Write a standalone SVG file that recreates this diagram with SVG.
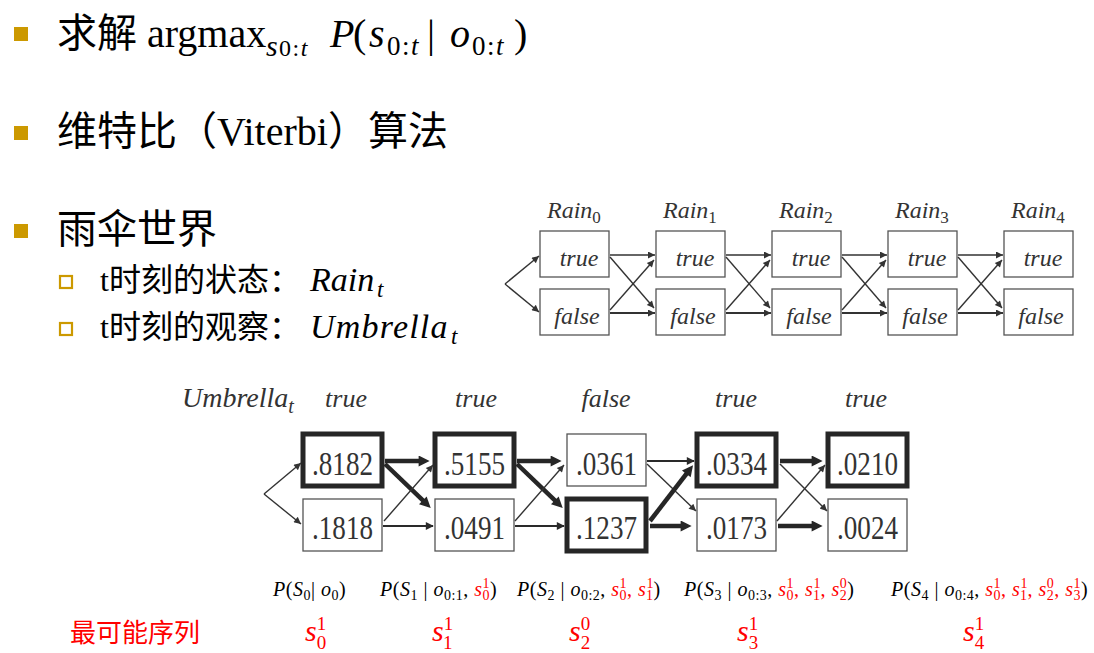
<svg xmlns="http://www.w3.org/2000/svg" width="1094" height="653" viewBox="0 0 1094 653">
<style>
.cjk{font-family:"Noto Sans CJK SC",sans-serif;}
.ser{font-family:"Liberation Serif","Noto Sans CJK SC",serif;}
.it{font-style:italic;}
.red{fill:#FF0000;}
.blk{fill:#000;}
.dg{fill:#333;}
.box{fill:#fff;stroke:#555;stroke-width:1.3;}
.boxb{fill:#fff;stroke:#262626;stroke-width:5;}
.ln{stroke:#333;stroke-width:1.4;fill:none;marker-end:url(#ah);}
.lnt{stroke:#333;stroke-width:2.2;fill:none;marker-end:url(#ah);}
.lnm{stroke:#2a2a2a;stroke-width:2.2;fill:none;marker-end:url(#ahm);}
.lnb{stroke:#262626;stroke-width:4.5;fill:none;marker-end:url(#ahb);}
.bul{fill:#CC9900;}
.hbul{fill:#fff;stroke:#CC9900;stroke-width:2.2;}
.fm{letter-spacing:0.5px;}
</style>
<defs>
<marker id="ah" viewBox="0 0 10 10" refX="10" refY="5" markerWidth="11" markerHeight="7" markerUnits="userSpaceOnUse" orient="auto"><path d="M0,0 L10,5 L0,10 z" fill="#333"/></marker>
<marker id="ahm" viewBox="0 0 10 10" refX="9" refY="5" markerWidth="12" markerHeight="8" markerUnits="userSpaceOnUse" orient="auto"><path d="M0,0 L10,5 L0,10 z" fill="#2a2a2a"/></marker>
<marker id="ahb" viewBox="0 0 10 10" refX="4" refY="5" markerWidth="16" markerHeight="11" markerUnits="userSpaceOnUse" orient="auto"><path d="M0,0 L10,5 L0,10 z" fill="#262626"/></marker>
</defs>
<rect width="1094" height="653" fill="#fff"/>

<g id="bullets">
<rect class="bul" x="14" y="27" width="14" height="14"/>
<rect class="bul" x="14" y="126" width="14" height="14"/>
<rect class="bul" x="14" y="224" width="14" height="14"/>
<rect class="hbul" x="60" y="276" width="12" height="12"/>
<rect class="hbul" x="60" y="323" width="12" height="12"/>
</g>

<g id="header" class="blk">
<text x="57" y="47" font-size="40" class="ser"><tspan class="cjk">求解</tspan> argmax<tspan class="it" font-size="30" x="266" dy="9">s</tspan><tspan font-size="24" x="279" letter-spacing="1.5">0:<tspan class="it">t</tspan></tspan><tspan dy="-9" x="330" class="it">P</tspan><tspan x="353">(</tspan><tspan class="it" x="369">s</tspan><tspan font-size="27" x="387" dy="8" letter-spacing="1.5">0:<tspan class="it">t</tspan></tspan><tspan dy="-8" x="427">|</tspan><tspan class="it" x="450">o</tspan><tspan font-size="27" x="472" dy="8" letter-spacing="1.5">0:<tspan class="it">t</tspan></tspan><tspan dy="-8" x="514">)</tspan></text>
<text x="57" y="145" font-size="40" class="ser"><tspan class="cjk">维特比（</tspan>Viterbi<tspan class="cjk">）算法</tspan></text>
<text x="57" y="243" font-size="40" class="cjk">雨伞世界</text>
<text x="100" y="291" font-size="32" class="ser">t<tspan class="cjk">时刻的状态：</tspan><tspan class="it" font-size="34" x="310">Rain</tspan><tspan class="it" font-size="23" dy="6" x="377">t</tspan></text>
<text x="100" y="338" font-size="32" class="ser">t<tspan class="cjk">时刻的观察：</tspan><tspan class="it" font-size="34" x="310" letter-spacing="1.2">Umbrella</tspan><tspan class="it" font-size="23" dy="6" x="451">t</tspan></text>
</g>

<g id="top-labels" class="ser it dg" font-size="24">
<text x="547" y="218">Rain<tspan font-style="normal" font-size="17" dy="5">0</tspan></text>
<text x="663" y="218">Rain<tspan font-style="normal" font-size="17" dy="5">1</tspan></text>
<text x="779" y="218">Rain<tspan font-style="normal" font-size="17" dy="5">2</tspan></text>
<text x="895" y="218">Rain<tspan font-style="normal" font-size="17" dy="5">3</tspan></text>
<text x="1011" y="218">Rain<tspan font-style="normal" font-size="17" dy="5">4</tspan></text>
</g>

<g id="r0t"><rect class="box" x="540" y="231" width="69" height="46"/><text class="ser it dg" font-size="24" x="579" y="266" text-anchor="middle">true</text></g>
<g id="r0f"><rect class="box" x="540" y="289" width="69" height="46"/><text class="ser it dg" font-size="24" x="577" y="324" text-anchor="middle">false</text></g>
<g id="r1t"><rect class="box" x="656" y="231" width="69" height="46"/><text class="ser it dg" font-size="24" x="695" y="266" text-anchor="middle">true</text></g>
<g id="r1f"><rect class="box" x="656" y="289" width="69" height="46"/><text class="ser it dg" font-size="24" x="693" y="324" text-anchor="middle">false</text></g>
<g id="r2t"><rect class="box" x="772" y="231" width="69" height="46"/><text class="ser it dg" font-size="24" x="811" y="266" text-anchor="middle">true</text></g>
<g id="r2f"><rect class="box" x="772" y="289" width="69" height="46"/><text class="ser it dg" font-size="24" x="809" y="324" text-anchor="middle">false</text></g>
<g id="r3t"><rect class="box" x="888" y="231" width="69" height="46"/><text class="ser it dg" font-size="24" x="927" y="266" text-anchor="middle">true</text></g>
<g id="r3f"><rect class="box" x="888" y="289" width="69" height="46"/><text class="ser it dg" font-size="24" x="925" y="324" text-anchor="middle">false</text></g>
<g id="r4t"><rect class="box" x="1004" y="231" width="69" height="46"/><text class="ser it dg" font-size="24" x="1043" y="266" text-anchor="middle">true</text></g>
<g id="r4f"><rect class="box" x="1004" y="289" width="69" height="46"/><text class="ser it dg" font-size="24" x="1041" y="324" text-anchor="middle">false</text></g>

<g id="top-connectors">
<path class="ln" d="M505,284 L539,256"/>
<path class="ln" d="M505,284 L539,312"/>
<path class="ln" d="M610,255 L655,255"/><path class="ln" d="M610,257 L654,308"/><path class="ln" d="M610,310 L654,260"/><path class="lnt" d="M610,313 L655,313"/>
<path class="ln" d="M726,255 L771,255"/><path class="ln" d="M726,257 L770,308"/><path class="ln" d="M726,310 L770,260"/><path class="lnt" d="M726,313 L771,313"/>
<path class="ln" d="M842,255 L887,255"/><path class="ln" d="M842,257 L886,308"/><path class="ln" d="M842,310 L886,260"/><path class="lnt" d="M842,313 L887,313"/>
<path class="ln" d="M958,255 L1003,255"/><path class="ln" d="M958,257 L1002,308"/><path class="ln" d="M958,310 L1002,260"/><path class="lnt" d="M958,313 L1003,313"/>
</g>

<g id="bottom-labels" class="ser it dg" font-size="26">
<text x="182" y="407" font-size="28">Umbrella<tspan font-size="20" dy="6">t</tspan></text>
<text x="346" y="407" text-anchor="middle">true</text>
<text x="476" y="407" text-anchor="middle">true</text>
<text x="606" y="407" text-anchor="middle">false</text>
<text x="736" y="407" text-anchor="middle">true</text>
<text x="866" y="407" text-anchor="middle">true</text>
</g>

<g id="b0t"><rect class="boxb" x="303" y="434" width="79" height="52"/><text class="ser dg" font-size="33" x="342.5" y="475" text-anchor="middle" textLength="61" lengthAdjust="spacingAndGlyphs">.8182</text></g>
<g id="b0f"><rect class="box" x="303" y="499" width="79" height="52"/><text class="ser dg" font-size="33" x="342.5" y="539" text-anchor="middle" textLength="61" lengthAdjust="spacingAndGlyphs">.1818</text></g>
<g id="b1t"><rect class="boxb" x="435" y="434" width="79" height="52"/><text class="ser dg" font-size="33" x="474.5" y="475" text-anchor="middle" textLength="61" lengthAdjust="spacingAndGlyphs">.5155</text></g>
<g id="b1f"><rect class="box" x="435" y="499" width="79" height="52"/><text class="ser dg" font-size="33" x="474.5" y="539" text-anchor="middle" textLength="61" lengthAdjust="spacingAndGlyphs">.0491</text></g>
<g id="b2t"><rect class="box" x="567" y="434" width="79" height="52"/><text class="ser dg" font-size="33" x="606.5" y="475" text-anchor="middle" textLength="61" lengthAdjust="spacingAndGlyphs">.0361</text></g>
<g id="b2f"><rect class="boxb" x="567" y="499" width="79" height="52"/><text class="ser dg" font-size="33" x="606.5" y="539" text-anchor="middle" textLength="61" lengthAdjust="spacingAndGlyphs">.1237</text></g>
<g id="b3t"><rect class="boxb" x="697" y="434" width="79" height="52"/><text class="ser dg" font-size="33" x="736.5" y="475" text-anchor="middle" textLength="61" lengthAdjust="spacingAndGlyphs">.0334</text></g>
<g id="b3f"><rect class="box" x="697" y="499" width="79" height="52"/><text class="ser dg" font-size="33" x="736.5" y="539" text-anchor="middle" textLength="61" lengthAdjust="spacingAndGlyphs">.0173</text></g>
<g id="b4t"><rect class="boxb" x="828" y="434" width="79" height="52"/><text class="ser dg" font-size="33" x="867.5" y="475" text-anchor="middle" textLength="61" lengthAdjust="spacingAndGlyphs">.0210</text></g>
<g id="b4f"><rect class="box" x="828" y="499" width="79" height="52"/><text class="ser dg" font-size="33" x="867.5" y="539" text-anchor="middle" textLength="61" lengthAdjust="spacingAndGlyphs">.0024</text></g>

<g id="bottom-connectors">
<path class="ln" d="M264,494 L301,463"/>
<path class="ln" d="M264,494 L301,524"/>
<path class="lnb" d="M385,461 L423,461"/>
<path class="lnb" d="M385,464 L426,503.4"/>
<path class="ln" d="M384,521 L433,465"/>
<path class="lnm" d="M383,526 L433,526"/>
<path class="lnb" d="M517,461 L555,461"/>
<path class="lnb" d="M517,464 L558,503.4"/>
<path class="ln" d="M515,521 L564,465"/>
<path class="lnm" d="M515,526 L564,526"/>
<path class="lnm" d="M647,461 L694,461"/>
<path class="ln" d="M647,464 L696,511"/>
<path class="lnb" d="M650,521 L689,470.5"/>
<path class="lnb" d="M650,526 L685,526"/>
<path class="lnb" d="M780,461 L816,461"/>
<path class="ln" d="M780,464 L827,511"/>
<path class="ln" d="M777,521 L825,465"/>
<path class="lnb" d="M778,526 L816,526"/>
</g>

<g id="formulas" class="ser blk fm" font-size="20">
<text x="273" y="596"><tspan class="it">P</tspan>(<tspan class="it">S</tspan><tspan font-size="14" dy="4">0</tspan><tspan dy="-4">| </tspan><tspan class="it">o</tspan><tspan font-size="14" dy="4">0</tspan><tspan dy="-4">)</tspan></text>
<text x="380" y="596"><tspan class="it">P</tspan>(<tspan class="it">S</tspan><tspan font-size="14" dy="4">1</tspan><tspan dy="-4"> | </tspan><tspan class="it">o</tspan><tspan font-size="14" dy="4">0:1</tspan><tspan dy="-4">, </tspan><tspan class="it red">s</tspan><tspan class="red" font-size="14" dy="-8">1</tspan><tspan class="red" font-size="14" dx="-7.5" dy="12">0</tspan><tspan dy="-4">)</tspan></text>
<text x="517" y="596"><tspan class="it">P</tspan>(<tspan class="it">S</tspan><tspan font-size="14" dy="4">2</tspan><tspan dy="-4"> | </tspan><tspan class="it">o</tspan><tspan font-size="14" dy="4">0:2</tspan><tspan dy="-4">, </tspan><tspan class="it red">s</tspan><tspan class="red" font-size="14" dy="-8">1</tspan><tspan class="red" font-size="14" dx="-7.5" dy="12">0</tspan><tspan class="red" dy="-4">, </tspan><tspan class="it red">s</tspan><tspan class="red" font-size="14" dy="-8">1</tspan><tspan class="red" font-size="14" dx="-7.5" dy="12">1</tspan><tspan dy="-4">)</tspan></text>
<text x="684" y="596"><tspan class="it">P</tspan>(<tspan class="it">S</tspan><tspan font-size="14" dy="4">3</tspan><tspan dy="-4"> | </tspan><tspan class="it">o</tspan><tspan font-size="14" dy="4">0:3</tspan><tspan dy="-4">, </tspan><tspan class="it red">s</tspan><tspan class="red" font-size="14" dy="-8">1</tspan><tspan class="red" font-size="14" dx="-7.5" dy="12">0</tspan><tspan class="red" dy="-4">, </tspan><tspan class="it red">s</tspan><tspan class="red" font-size="14" dy="-8">1</tspan><tspan class="red" font-size="14" dx="-7.5" dy="12">1</tspan><tspan class="red" dy="-4">, </tspan><tspan class="it red">s</tspan><tspan class="red" font-size="14" dy="-8">0</tspan><tspan class="red" font-size="14" dx="-7.5" dy="12">2</tspan><tspan dy="-4">)</tspan></text>
<text x="891" y="596"><tspan class="it">P</tspan>(<tspan class="it">S</tspan><tspan font-size="14" dy="4">4</tspan><tspan dy="-4"> | </tspan><tspan class="it">o</tspan><tspan font-size="14" dy="4">0:4</tspan><tspan dy="-4">, </tspan><tspan class="it red">s</tspan><tspan class="red" font-size="14" dy="-8">1</tspan><tspan class="red" font-size="14" dx="-7.5" dy="12">0</tspan><tspan class="red" dy="-4">, </tspan><tspan class="it red">s</tspan><tspan class="red" font-size="14" dy="-8">1</tspan><tspan class="red" font-size="14" dx="-7.5" dy="12">1</tspan><tspan class="red" dy="-4">, </tspan><tspan class="it red">s</tspan><tspan class="red" font-size="14" dy="-8">0</tspan><tspan class="red" font-size="14" dx="-7.5" dy="12">2</tspan><tspan class="red" dy="-4">, </tspan><tspan class="it red">s</tspan><tspan class="red" font-size="14" dy="-8">1</tspan><tspan class="red" font-size="14" dx="-7.5" dy="12">3</tspan><tspan dy="-4">)</tspan></text>
</g>

<g id="sequence" class="red">
<text x="70" y="642" font-size="26" class="cjk">最可能序列</text>
<text x="305" y="641" font-size="30" class="ser"><tspan class="it">s</tspan><tspan font-size="19" dy="-11">1</tspan><tspan font-size="19" dx="-9.5" dy="19">0</tspan></text>
<text x="432" y="641" font-size="30" class="ser"><tspan class="it">s</tspan><tspan font-size="19" dy="-11">1</tspan><tspan font-size="19" dx="-9.5" dy="19">1</tspan></text>
<text x="569" y="641" font-size="30" class="ser"><tspan class="it">s</tspan><tspan font-size="19" dy="-11">0</tspan><tspan font-size="19" dx="-9.5" dy="19">2</tspan></text>
<text x="737" y="641" font-size="30" class="ser"><tspan class="it">s</tspan><tspan font-size="19" dy="-11">1</tspan><tspan font-size="19" dx="-9.5" dy="19">3</tspan></text>
<text x="963" y="641" font-size="30" class="ser"><tspan class="it">s</tspan><tspan font-size="19" dy="-11">1</tspan><tspan font-size="19" dx="-9.5" dy="19">4</tspan></text>
</g>
</svg>
